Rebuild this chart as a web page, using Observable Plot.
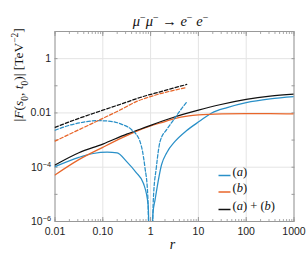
<!DOCTYPE html>
<html><head><meta charset="utf-8">
<script src="https://cdn.jsdelivr.net/npm/d3@7"></script>
<script src="https://cdn.jsdelivr.net/npm/@observablehq/plot@0.6"></script>
<style>body{margin:0;background:#fff}</style>
</head><body><div id="chart"></div>
<script>
// ---- data ----
const title = "TITLE";
const xTicks = [0.01, 0.1, 1, 10, 100, 1000];
const xTickLabels = ["0.01", "0.10", "1", "10", "100", "1000"];
const yTicks = [1e-6, 1e-4, 1e-2, 1];
const yTickLabels = ["Y6", "Y4", "0.01", "1"];
const legendLabels = ["(a)", "(b)", "(a) + (b)"];

// (a) solid
const rA = [0.01, 0.0316, 0.0437, 0.063, 0.123, 0.2, 0.316, 0.5, 0.71, 0.89, 1, 1.12, 1.24, 1.7, 2.19, 3.24, 5.6, 10.7, 19, 40, 100, 316, 1000];
const vA = [1.05e-4, 2.3e-4, 2.75e-4, 3.2e-4, 3.6e-4, 3.4e-4, 1.6e-4, 6.3e-5, 2.5e-5, 4e-6, 1e-9, 2e-6, 6.3e-6, 1.26e-4, 3.5e-4, 8.9e-4, 2.2e-3, 5e-3, 0.01, 0.0158, 0.024, 0.033, 0.04];
// (b) solid
const rB = [0.01, 0.0316, 0.1, 0.25, 0.5, 1, 2, 3.16, 6.3, 10, 31.6, 100, 316, 1000];
const vB = [5.2e-5, 1.9e-4, 5.4e-4, 1.2e-3, 2.1e-3, 3.3e-3, 4.8e-3, 6.2e-3, 7.8e-3, 8.5e-3, 9.3e-3, 9.5e-3, 9.5e-3, 9.3e-3];
// (a)+(b) solid
const rAB = [0.01, 0.0316, 0.1, 0.316, 0.6, 1, 2.95, 10, 28, 100, 316, 1000];
const vAB = [1.2e-4, 3.4e-4, 7.1e-4, 1.66e-3, 2.5e-3, 3.5e-3, 6.8e-3, 0.0126, 0.02, 0.0316, 0.0417, 0.049];
// (a) dashed
const rAd = [0.01, 0.02, 0.04, 0.079, 0.158, 0.25, 0.4, 0.6, 0.76, 0.87, 1, 1.14, 1.32, 1.58, 2.19, 3, 4, 5.7];
const vAd = [2.3e-3, 3.5e-3, 4.6e-3, 5.2e-3, 4.8e-3, 3.8e-3, 2.4e-3, 8.9e-4, 1e-4, 1e-5, 1e-9, 6.3e-6, 1e-4, 8.9e-4, 2.5e-3, 5.4e-3, 0.0112, 0.025];
// (b) dashed
const rBd = [0.01, 0.0316, 0.1, 0.25, 0.5, 0.79, 1.58, 3.16, 5.7];
const vBd = [9.1e-4, 2.4e-3, 6.3e-3, 0.0138, 0.026, 0.035, 0.051, 0.069, 0.087];
// (a)+(b) dashed
const rABd = [0.01, 0.0316, 0.1, 0.316, 0.6, 1.58, 5.7];
const vABd = [2.95e-3, 6.3e-3, 0.0126, 0.025, 0.037, 0.06, 0.112];

const BLUE = "#2a90c8", ORANGE = "#e8662a", BLACK = "#111";
const series = [
  {r: rA, v: vA, color: BLUE, dash: null},
  {r: rB, v: vB, color: ORANGE, dash: null},
  {r: rAB, v: vAB, color: BLACK, dash: null},
  {r: rAd, v: vAd, color: BLUE, dash: "3.5,2"},
  {r: rBd, v: vBd, color: ORANGE, dash: "3.5,2"},
  {r: rABd, v: vABd, color: BLACK, dash: "3.5,2"}
];
const legendColors = [BLUE, ORANGE, BLACK];

// tick helpers
const xMinor = [];
for (const d of [0.01, 0.1, 1, 10, 100]) for (let k = 1; k <= 9; k++) xMinor.push(d * k);
xMinor.push(1000);
const yDecades = [1e-6, 1e-5, 1e-4, 1e-3, 1e-2, 1e-1, 1, 10];
const xLab = new Map(xTicks.map((d, i) => [d, xTickLabels[i]]));
const yLab = new Map(yTicks.map((d, i) => [d, yTickLabels[i]]));

const serif = "'Liberation Serif', 'DejaVu Serif', serif";
const lineSym = {draw(ctx) { ctx.moveTo(-6, 0); ctx.lineTo(6, 0); }};

const marks = [
  Plot.gridX(xTicks, {stroke: "#e4e4e4", strokeOpacity: 1}),
  Plot.gridY([1e-4, 1e-2, 1], {stroke: "#e4e4e4", strokeOpacity: 1}),
  Plot.axisX(xMinor, {anchor: "bottom", tickSize: -2, tickFormat: () => "", stroke: "#aaa", label: null}),
  Plot.axisX(xMinor, {anchor: "top", tickSize: -2, tickFormat: () => "", stroke: "#aaa", label: null}),
  Plot.axisX(xTicks, {anchor: "bottom", tickSize: -4, tickFormat: () => "", stroke: "#999", label: null}),
  Plot.axisX(xTicks, {anchor: "top", tickSize: -4, tickFormat: () => "", stroke: "#999", label: null}),
  Plot.axisX(xTicks, {anchor: "bottom", tickSize: 0, tickPadding: 6, tickFormat: d => xLab.get(d), label: null, fill: "#222"}),
  Plot.axisY(yDecades, {anchor: "left", tickSize: -3, tickFormat: () => "", stroke: "#999", label: null}),
  Plot.axisY(yDecades, {anchor: "right", tickSize: -3, tickFormat: () => "", stroke: "#999", label: null}),
  Plot.axisY(yTicks, {anchor: "left", tickSize: 0, tickPadding: 4, tickFormat: d => yLab.get(d), label: null, fill: "#222"}),
  Plot.frame({stroke: "#999"})
];
for (const s of series) {
  const rows = s.r.map((r, i) => ({r, v: s.v[i]}));
  marks.push(Plot.line(rows, {x: "r", y: "v", stroke: s.color, strokeWidth: 1.25, strokeDasharray: s.dash, curve: "monotone-x", clip: true}));
}
const legendDy = [-46, -29.5, -12];
legendLabels.forEach((lab, i) => {
  marks.push(Plot.dot([lab], {frameAnchor: "bottom-right", dx: -69.5, dy: legendDy[i], symbol: lineSym, stroke: legendColors[i], strokeWidth: 1.5, r: 6}));
  marks.push(Plot.text([lab], {frameAnchor: "bottom-right", dx: -61.5, dy: legendDy[i], textAnchor: "start", fontFamily: serif, fontSize: 12.5, fill: "#111"}));
});
marks.push(Plot.text([title], {frameAnchor: "top", dx: -4, dy: -16, fontFamily: serif, fontSize: 14.5, fill: "#111"}));
marks.push(Plot.text(["YLABEL"], {frameAnchor: "left", dx: -36.5, dy: -5, rotate: -90, fontFamily: serif, fontSize: 13.5, fill: "#111"}));
marks.push(Plot.text(["r"], {frameAnchor: "bottom", dx: -2, dy: 27, fontFamily: serif, fontSize: 14, fontStyle: "italic", fill: "#111"}));

const plot = Plot.plot({
  width: 306, height: 258,
  marginLeft: 54.5, marginRight: 12.5, marginTop: 31, marginBottom: 37,
  style: {fontFamily: "'Liberation Sans', Arial, sans-serif", fontSize: "10.5px", background: "#fff", color: "#222"},
  x: {type: "log", domain: [0.01, 1000]},
  y: {type: "log", domain: [1e-6, 10]},
  marks
});

// rich math text
const it = s => `<tspan font-style="italic">${s}</tspan>`;
const sup = s => `<tspan font-size="70%" baseline-shift="super">${s}</tspan>`;
const sub = s => `<tspan font-size="70%" baseline-shift="sub">${s}</tspan>`;
const rich = new Map([
  ["TITLE", `${it("μ")}${sup("−")}${it("μ")}${sup("−")} → ${it("e")}${sup("−")} ${it("e")}${sup("−")}`],
  ["YLABEL", `|${it("F")}(${it("s")}${sub("0")}, ${it("t")}${sub("0")})| [TeV${sup("−2")}]`],
  ["Y6", `10${sup("−6")}`],
  ["Y4", `10${sup("−4")}`],
  ["(a)", `(${it("a")})`],
  ["(b)", `(${it("b")})`],
  ["(a) + (b)", `(${it("a")}) + (${it("b")})`]
]);
d3.select(plot).selectAll("text").each(function () {
  const t = this.textContent;
  if (rich.has(t)) this.innerHTML = rich.get(t);
});
document.getElementById("chart").append(plot);
</script>
</body></html>
